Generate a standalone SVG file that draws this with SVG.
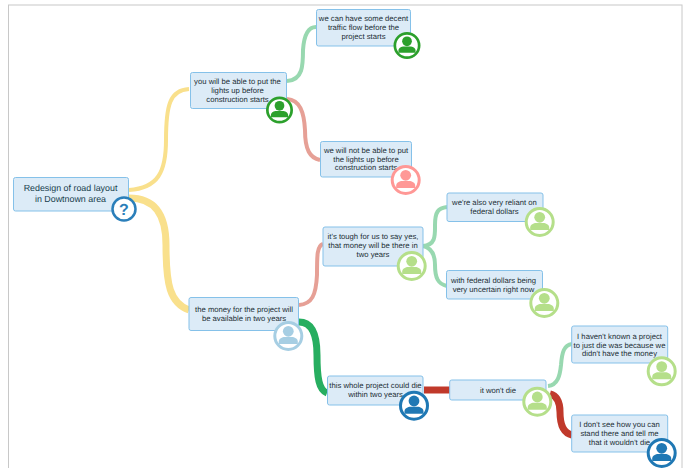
<svg xmlns="http://www.w3.org/2000/svg" width="686" height="468" viewBox="0 0 686 468">
<style>
.box{fill:#dcebf7;stroke:#85c1e9;stroke-width:1}
text{font-family:"Liberation Sans",Arial,sans-serif;font-size:7.7px;fill:#222e35;text-anchor:middle;text-rendering:geometricPrecision}
.root{font-size:8.9px;fill:#17404d}
.c{fill:none;stroke-linecap:butt}
.y{stroke:#f9e08c}.g{stroke:#98d8b0}.p{stroke:#e6a096}.d{stroke:#27ae60}.r{stroke:#c0392b}
.t{stroke-width:4}.w{stroke-width:7}
.face{fill:#fff;stroke-width:3}
</style>
<defs>
<g id="person"><circle cx="0" cy="-4.7" r="5.4"/><path d="M-9.500,8 L-9.500,5.500 C-9.500,2.500 -6,1 -3.500,1 L3.500,1 C6,1 9.500,2.500 9.500,5.500 L9.500,8 Z"/></g>
</defs>
<rect x="8.500" y="5" width="673.500" height="470" fill="#fff" stroke="#c8c8c8" stroke-width="1"/>
<g id="connectors">
<path class="c y t" d="M129,190 C158,188 166,172 166,140 C166,105 170,90 189,89"/>
<path class="c y w" d="M129,198 C155,198 166,215 166,245 C166,285 170,303 189,310"/>
<path class="c g t" d="M287,81 C303,80 303,65 303,50 C304,35 308,27 316,27"/>
<path class="c p t" d="M287,99 C300,100 304,112 305,130 C305,150 310,158 320,160"/>
<path class="c p t" d="M299,305 C312,304 316,295 317,275 C317,255 317,246 323,244"/>
<path class="c d w" d="M299,322 C312,322 317,335 317,355 C317,378 319,390 327,393"/>
<path class="c g t" d="M423,246 C436,245 435,235 435,225 C435,212 438,208 447,207"/>
<path class="c g t" d="M423,246 C432,248 435,255 435,265 C435,278 438,284 447,286"/>
<path class="c r w" d="M424,390 L450,390"/>
<path class="c g t" d="M548,386 C558,385 560,375 561,365 C562,352 564,345 572,344"/>
<path class="c r w" d="M550,394 C558,396 560,403 560,412 C560,425 563,433 572,435"/>
</g>
<g id="n-root"><rect class="box" x="13.500" y="177.500" width="115" height="33.500" rx="2"/>
<text class="root" x="70.500" y="191">Redesign of road layout</text><text class="root" x="70.500" y="201.500">in Dowtnown area</text>
<circle cx="124" cy="209" r="11.500" fill="#fff" stroke="#2b7fba" stroke-width="2.500"/>
<text x="124" y="214.500" style="font-size:16px;font-weight:bold;fill:#2b7fba">?</text></g>
<g id="n1"><rect class="box" x="190.500" y="72.500" width="96" height="36" rx="2"/>
<text x="237.500" y="84">you will be able to put the</text><text x="237.500" y="93">lights up before</text><text x="237.500" y="102">construction starts</text>
<g transform="translate(279.500,110) scale(.9)" fill="#2ca02c" stroke="#2ca02c"><circle class="face" r="13.500"/><use href="#person" stroke="none"/></g></g>
<g id="n2"><rect class="box" x="316.500" y="9.500" width="94" height="36.500" rx="2"/>
<text x="363.500" y="21">we can have some decent</text><text x="363.500" y="30">traffic flow before the</text><text x="363.500" y="38.500">project starts</text>
<g transform="translate(407,45.500) scale(.9)" fill="#2ca02c" stroke="#2ca02c"><circle class="face" r="13.500"/><use href="#person" stroke="none"/></g></g>
<g id="n3"><rect class="box" x="320.500" y="141.500" width="91" height="35.500" rx="2"/>
<text x="366" y="153">we will not be able to put</text><text x="366" y="161.500">the lights up before</text><text x="366" y="170">construction starts</text>
<g transform="translate(405.700,180)" fill="#ff9896" stroke="#ff9896"><circle class="face" r="13.500"/><use href="#person" stroke="none"/></g></g>
<g id="n4"><rect class="box" x="447" y="193" width="96" height="28.500" rx="2"/>
<text x="494.500" y="205">we're also very reliant on</text><text x="494.500" y="214">federal dollars</text>
<g transform="translate(539.700,222)" fill="#b5df8a" stroke="#b5df8a"><circle class="face" r="13.500"/><use href="#person" stroke="none"/></g></g>
<g id="n5"><rect class="box" x="323" y="227" width="100" height="39" rx="2"/>
<text x="373" y="239">it's tough for us to say yes,</text><text x="373" y="248">that money will be there in</text><text x="373" y="257">two years</text>
<g transform="translate(411.700,266)" fill="#b5df8a" stroke="#b5df8a"><circle class="face" r="13.500"/><use href="#person" stroke="none"/></g></g>
<g id="n6"><rect class="box" x="446.500" y="270.500" width="96" height="28.500" rx="2"/>
<text x="493.500" y="282.500">with federal dollars being</text><text x="493.500" y="291.500">very uncertain right now</text>
<g transform="translate(544.300,303)" fill="#b5df8a" stroke="#b5df8a"><circle class="face" r="13.500"/><use href="#person" stroke="none"/></g></g>
<g id="n7"><rect class="box" x="189" y="297.500" width="109.500" height="33" rx="2"/>
<text x="244" y="312">the money for the project will</text><text x="244" y="321">be available in two years</text>
<g transform="translate(288.300,336)" fill="#a6cee3" stroke="#a6cee3"><circle class="face" r="13.500"/><use href="#person" stroke="none"/></g></g>
<g id="n8"><rect class="box" x="327.500" y="376" width="95.500" height="29" rx="2"/>
<text x="375.500" y="388">this whole project could die</text><text x="375.500" y="397">within two years</text>
<g transform="translate(414,405.700)" fill="#1f78b4" stroke="#1f78b4"><circle class="face" r="13.500"/><use href="#person" stroke="none"/></g></g>
<g id="n9"><rect class="box" x="449.700" y="380" width="96.300" height="20" rx="2"/>
<text x="498" y="392.500">it won't die</text>
<g transform="translate(537.300,401.700)" fill="#b5df8a" stroke="#b5df8a"><circle class="face" r="13.500"/><use href="#person" stroke="none"/></g></g>
<g id="n10"><rect class="box" x="571.700" y="326" width="96" height="37" rx="2"/>
<text x="619.500" y="338.500">I haven't known a project</text><text x="619.500" y="347.500">to just die was because we</text><text x="619.500" y="356">didn't have the money</text>
<g transform="translate(661.700,371.300)" fill="#b5df8a" stroke="#b5df8a"><circle class="face" r="13.500"/><use href="#person" stroke="none"/></g></g>
<g id="n11"><rect class="box" x="571.700" y="415" width="96" height="37" rx="2"/>
<text x="619.500" y="427">I don't see how you can</text><text x="619.500" y="436">stand there and tell me</text><text x="619.500" y="444.500">that it wouldn't die</text>
<g transform="translate(661.700,453)" fill="#1f78b4" stroke="#1f78b4"><circle class="face" r="13.500"/><use href="#person" stroke="none"/></g></g>
</svg>
